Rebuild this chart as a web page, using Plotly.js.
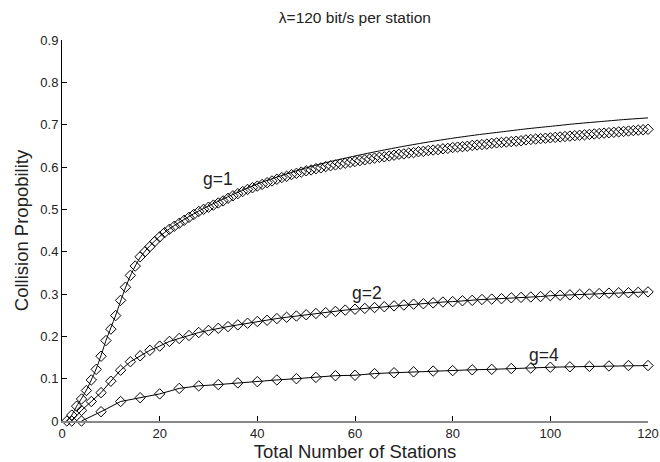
<!DOCTYPE html>
<html>
<head>
<meta charset="utf-8">
<script src="https://cdn.plot.ly/plotly-3.0.1.min.js"></script>
<style>html,body{margin:0;padding:0;background:#fff;}#chart{width:660px;height:462px;}</style>
</head>
<body>
<div id="chart"></div>
<script>
// Simulated collision probability, g=1 (every station 1..120)
const g1Stations = [1,2,3,4,5,6,7,8,9,10,11,12,13,14,15,16,17,18,19,20,21,22,23,24,25,26,27,28,29,30,31,32,33,34,35,36,37,38,39,40,41,42,43,44,45,46,47,48,49,50,51,52,53,54,55,56,57,58,59,60,61,62,63,64,65,66,67,68,69,70,71,72,73,74,75,76,77,78,79,80,81,82,83,84,85,86,87,88,89,90,91,92,93,94,95,96,97,98,99,100,101,102,103,104,105,106,107,108,109,110,111,112,113,114,115,116,117,118,119,120];
const g1Sim = [0,0.014,0.035,0.052,0.072,0.097,0.122,0.153,0.19,0.217,0.249,0.285,0.316,0.344,0.366,0.388,0.4,0.412,0.424,0.435,0.445,0.453,0.46,0.467,0.474,0.481,0.488,0.495,0.5,0.505,0.51,0.515,0.52,0.526,0.532,0.537,0.542,0.547,0.551,0.555,0.559,0.563,0.567,0.571,0.575,0.578,0.582,0.585,0.588,0.591,0.593,0.596,0.598,0.601,0.603,0.605,0.607,0.609,0.611,0.613,0.615,0.617,0.619,0.621,0.623,0.624,0.626,0.628,0.63,0.631,0.633,0.634,0.636,0.637,0.639,0.64,0.641,0.643,0.644,0.646,0.647,0.648,0.649,0.651,0.652,0.653,0.654,0.656,0.657,0.658,0.659,0.66,0.661,0.662,0.664,0.665,0.666,0.667,0.668,0.669,0.67,0.671,0.672,0.673,0.674,0.675,0.676,0.677,0.678,0.679,0.68,0.681,0.682,0.683,0.684,0.685,0.686,0.687,0.688,0.689];

// Analytical curve, g=1
const g1ModelStations = [1,2,3,4,5,6,7,8,9,10,11,12,13,14,15,16,17,18,19,20,22,24,26,28,30,35,40,45,50,55,60,65,70,75,80,85,90,95,100,105,110,115,120];
const g1Model = [0,0.014,0.035,0.053,0.073,0.097,0.123,0.155,0.19,0.22,0.25,0.283,0.315,0.343,0.366,0.386,0.401,0.414,0.425,0.436,0.454,0.469,0.483,0.496,0.508,0.535,0.56,0.58,0.598,0.613,0.626,0.638,0.649,0.659,0.668,0.676,0.683,0.69,0.696,0.702,0.707,0.712,0.716];

// g=2 (every 2 stations)
const g2Stations = [2,4,6,8,10,12,14,16,18,20,22,24,26,28,30,32,34,36,38,40,42,44,46,48,50,52,54,56,58,60,62,64,66,68,70,72,74,76,78,80,82,84,86,88,90,92,94,96,98,100,102,104,106,108,110,112,114,116,118,120];
const g2Values = [0,0.025,0.046,0.067,0.094,0.12,0.14,0.154,0.167,0.177,0.188,0.195,0.202,0.209,0.214,0.219,0.223,0.227,0.231,0.235,0.238,0.242,0.245,0.248,0.251,0.254,0.256,0.259,0.262,0.264,0.266,0.268,0.27,0.272,0.274,0.276,0.277,0.279,0.281,0.282,0.284,0.285,0.287,0.288,0.289,0.291,0.292,0.293,0.294,0.296,0.297,0.298,0.299,0.3,0.301,0.302,0.303,0.303,0.304,0.305];

// g=4 (every 4 stations)
const g4Stations = [4,8,12,16,20,24,28,32,36,40,44,48,52,56,60,64,68,72,76,80,84,88,92,96,100,104,108,112,116,120];
const g4Values = [0,0.022,0.046,0.055,0.064,0.077,0.083,0.086,0.09,0.093,0.097,0.1,0.103,0.107,0.108,0.112,0.114,0.116,0.118,0.119,0.121,0.122,0.124,0.125,0.127,0.128,0.129,0.13,0.131,0.131];

const xTicks = [0,20,40,60,80,100,120];
const yTicks = [0,0.1,0.2,0.3,0.4,0.5,0.6,0.7,0.8,0.9];
const groupLabels = ['g=1','g=2','g=4'];

const FONT = 'Liberation Sans, Arial, Helvetica, sans-serif';
const mk = {symbol:'diamond-open', size:8, color:'#000', line:{width:1, color:'#000'}};

const traces = [
  {x:g1ModelStations, y:g1Model, mode:'lines', line:{color:'#000', width:1, shape:'spline', smoothing:0.6}, cliponaxis:false, hoverinfo:'skip'},
  {x:g1Stations, y:g1Sim, mode:'markers', marker:mk, cliponaxis:false},
  {x:g2Stations, y:g2Values, mode:'lines+markers', line:{color:'#000', width:1}, marker:mk, cliponaxis:false},
  {x:g4Stations, y:g4Values, mode:'lines+markers', line:{color:'#000', width:1}, marker:mk, cliponaxis:false}
];

const layout = {
  width:660, height:462,
  margin:{l:62, r:12, t:40, b:41},
  paper_bgcolor:'#fff', plot_bgcolor:'#fff',
  showlegend:false,
  font:{family:FONT, color:'#222', size:13},
  title:{text:'λ=120 bit/s per station', font:{family:FONT, size:15.5, color:'#222'}, x:0.5377, xanchor:'center', y:0.963, yanchor:'middle'},
  xaxis:{
    range:[0,120], tickvals:xTicks, ticktext:xTicks.map(String),
    ticks:'inside', ticklen:5, tickcolor:'#000', tickwidth:1,
    showline:true, linecolor:'#888', linewidth:1.5,
    showgrid:false, zeroline:false,
    tickfont:{family:FONT, size:13, color:'#222'},
    title:{text:'Total Number of Stations', font:{family:FONT, size:18.5, color:'#222'}, standoff:3}
  },
  yaxis:{
    range:[0,0.9], tickvals:yTicks, ticktext:yTicks.map(v => v===0 ? '0' : v.toFixed(1)),
    ticks:'inside', ticklen:5, tickcolor:'#000', tickwidth:1,
    showline:true, linecolor:'#000', linewidth:1,
    showgrid:false, zeroline:false,
    tickfont:{family:FONT, size:13, color:'#222'},
    title:{text:'Collision Propobility', font:{family:FONT, size:18.5, color:'#222'}, standoff:6}
  },
  annotations:[
    {x:31.9, y:0.572, text:groupLabels[0], showarrow:false, font:{family:FONT, size:17.5, color:'#222'}, xanchor:'center', yanchor:'middle'},
    {x:62.4, y:0.303, text:groupLabels[1], showarrow:false, font:{family:FONT, size:17.5, color:'#222'}, xanchor:'center', yanchor:'middle'},
    {x:98.8, y:0.156, text:groupLabels[2], showarrow:false, font:{family:FONT, size:17.5, color:'#222'}, xanchor:'center', yanchor:'middle'}
  ]
};

Plotly.newPlot('chart', traces, layout, {displayModeBar:false, staticPlot:true});
</script>
</body>
</html>
